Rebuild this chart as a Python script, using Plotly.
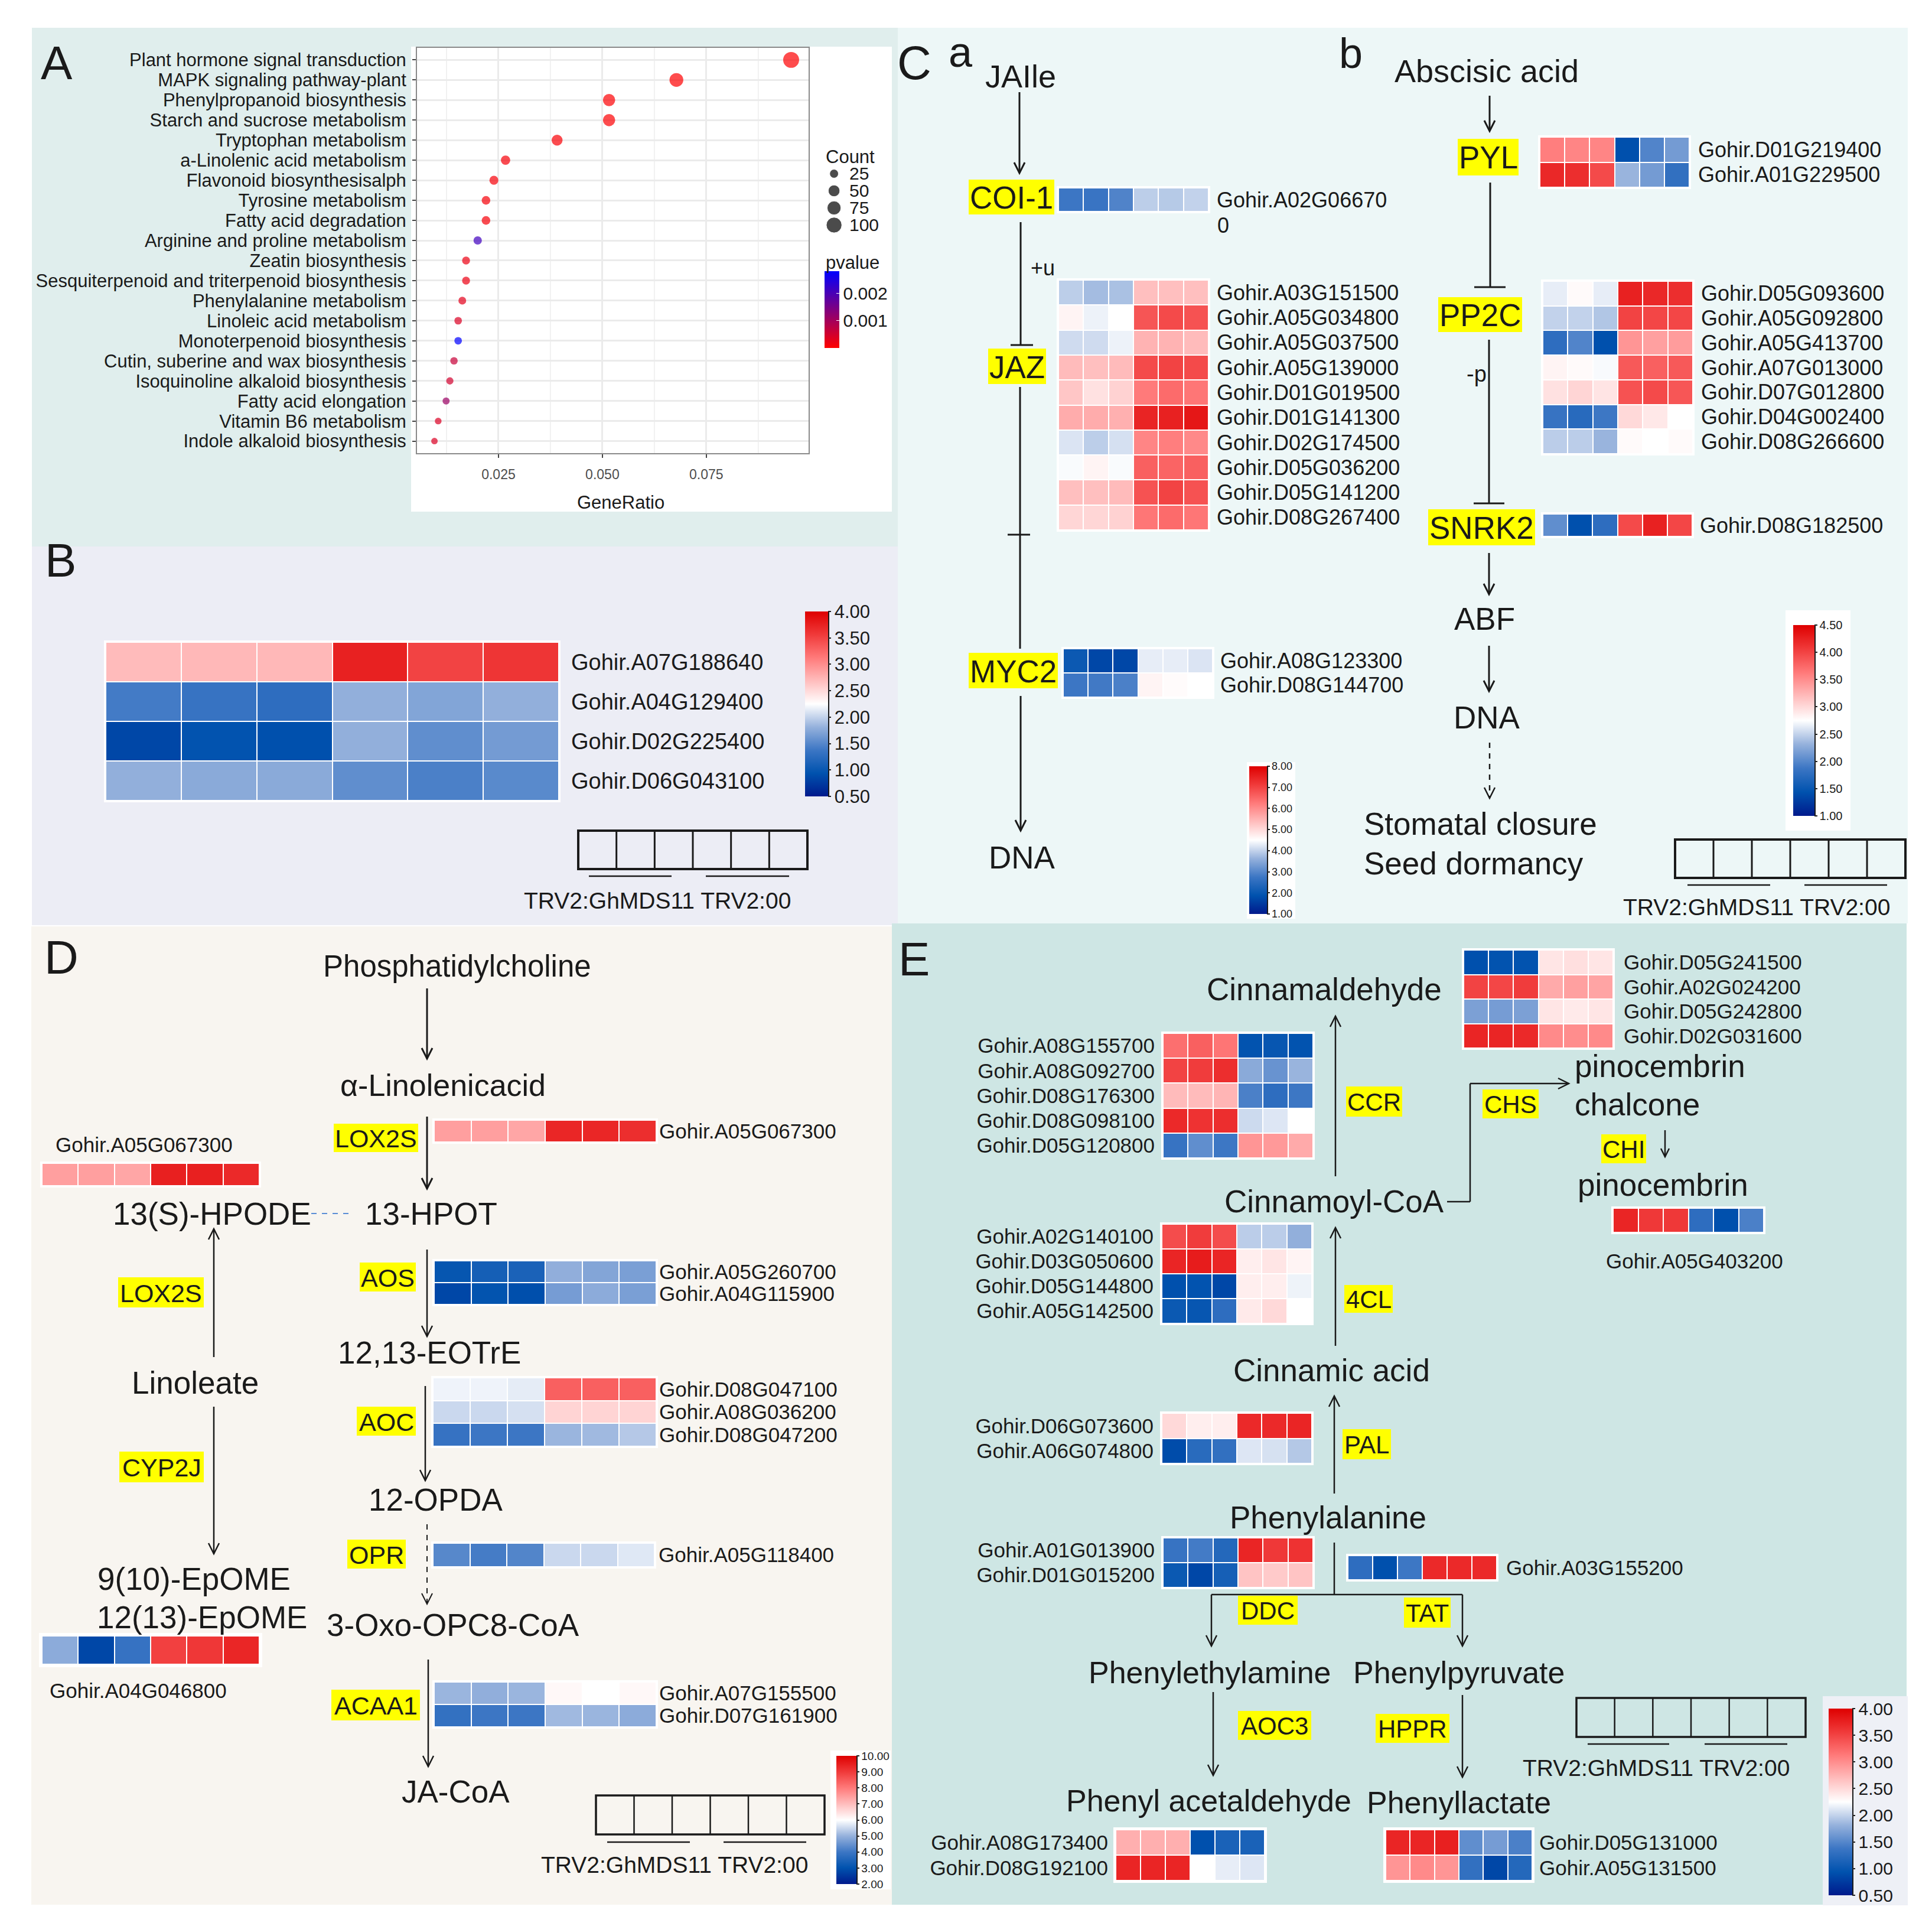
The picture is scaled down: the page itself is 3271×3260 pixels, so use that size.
import math
import plotly.graph_objects as go

W, H = 3271, 3260
FONT = "Liberation Sans, Arial, Helvetica, sans-serif"

# ------------------------------------------------------------------ data
SAMPLES = ["GhMDS11-1", "GhMDS11-2", "GhMDS11-3", "TRV2:00-1", "TRV2:00-2", "TRV2:00-3"]
GROUP_LABEL = "TRV2:GhMDS11 TRV2:00"

A_pathways = ["Plant hormone signal transduction", "MAPK signaling pathway-plant",
              "Phenylpropanoid biosynthesis", "Starch and sucrose metabolism",
              "Tryptophan metabolism", "a-Linolenic acid metabolism",
              "Flavonoid biosynthesisalph", "Tyrosine metabolism", "Fatty acid degradation",
              "Arginine and proline metabolism", "Zeatin biosynthesis",
              "Sesquiterpenoid and triterpenoid biosynthesis", "Phenylalanine metabolism",
              "Linoleic acid metabolism", "Monoterpenoid biosynthesis",
              "Cutin, suberine and wax biosynthesis", "Isoquinoline alkaloid biosynthesis",
              "Fatty acid elongation", "Vitamin B6 metabolism", "Indole alkaloid biosynthesis"]
A_gene_ratio = [0.0954, 0.0678, 0.0516, 0.0516, 0.0391, 0.0267, 0.0239, 0.0220, 0.0220, 0.0200,
                0.0172, 0.0172, 0.0163, 0.0153, 0.0153, 0.0143, 0.0133, 0.0124, 0.0105, 0.0096]
A_count = [105, 75, 57, 57, 43, 29, 26, 24, 24, 22, 19, 19, 18, 17, 17, 16, 15, 14, 12, 11]
A_pvalue = [0.00001, 0.00002, 0.00003, 0.00003, 0.00005, 0.0001, 0.0001, 0.0001, 0.0001, 0.0021,
            0.0002, 0.0002, 0.0003, 0.0004, 0.0028, 0.0006, 0.0005, 0.0011, 0.0004, 0.0004]
A_xticks = [0.025, 0.050, 0.075]
A_xticklabels = ["0.025", "0.050", "0.075"]
A_minor_grid = [0.0125, 0.0375, 0.0625, 0.0875]
A_count_legend = [25, 50, 75, 100]
A_p_ticks = [0.001, 0.002]

B_genes = ["Gohir.A07G188640", "Gohir.A04G129400", "Gohir.D02G225400", "Gohir.D06G043100"]
B_values = [[2.70, 2.72, 2.72, 3.75, 3.50, 3.60],
            [1.41, 1.34, 1.27, 1.80, 1.72, 1.80],
            [0.85, 0.95, 0.92, 1.80, 1.55, 1.65],
            [1.80, 1.76, 1.76, 1.55, 1.45, 1.52]]
B_ticks = [4.0, 3.5, 3.0, 2.5, 2.0, 1.5, 1.0, 0.5]

COI1_genes = ["Gohir.A02G06670"]
COI1_values = [[2.75, 2.70, 2.95, 3.95, 3.90, 4.00]]
JAZ_genes = ["Gohir.A03G151500", "Gohir.A05G034800", "Gohir.A05G037500", "Gohir.A05G139000",
             "Gohir.D01G019500", "Gohir.D01G141300", "Gohir.D02G174500", "Gohir.D05G036200",
             "Gohir.D05G141200", "Gohir.D08G267400"]
JAZ_values = [[3.95, 3.75, 3.80, 5.35, 5.35, 5.35],
              [4.65, 4.35, 4.50, 6.75, 6.90, 6.80],
              [4.10, 4.10, 4.35, 5.50, 5.50, 5.40],
              [5.40, 5.35, 5.40, 6.90, 7.00, 6.90],
              [5.25, 4.90, 5.10, 6.25, 6.45, 6.30],
              [5.60, 5.60, 5.55, 7.45, 7.50, 7.65],
              [4.20, 3.95, 4.15, 6.10, 6.20, 6.05],
              [4.45, 4.65, 4.45, 6.60, 6.55, 6.60],
              [5.35, 5.35, 5.40, 6.80, 7.00, 6.80],
              [5.05, 5.05, 5.10, 6.30, 6.45, 6.30]]
MYC2_genes = ["Gohir.A08G123300", "Gohir.D08G144700"]
MYC2_values = [[2.05, 1.70, 1.70, 4.30, 4.30, 4.20],
               [2.75, 2.80, 2.90, 4.65, 4.55, 4.50]]
Ca_ticks = [8.0, 7.0, 6.0, 5.0, 4.0, 3.0, 2.0, 1.0]

PYL_genes = ["Gohir.D01G219400", "Gohir.A01G229500"]
PYL_values = [[3.60, 3.55, 3.55, 1.42, 1.98, 2.15],
              [4.20, 4.15, 3.95, 2.33, 2.15, 1.80]]
PP2C_genes = ["Gohir.D05G093600", "Gohir.A05G092800", "Gohir.A05G413700", "Gohir.A07G013000",
              "Gohir.D07G012800", "Gohir.D04G002400", "Gohir.D08G266600"]
PP2C_values = [[2.65, 2.78, 2.65, 4.25, 4.20, 4.15],
               [2.50, 2.50, 2.43, 4.00, 3.98, 3.98],
               [1.77, 1.98, 1.42, 3.45, 3.38, 3.40],
               [2.82, 2.78, 2.72, 3.85, 3.80, 3.85],
               [2.95, 3.03, 2.93, 3.90, 3.95, 3.87],
               [1.84, 1.73, 1.88, 3.00, 2.90, 2.75],
               [2.47, 2.47, 2.33, 2.78, 2.75, 2.78]]
SNRK2_genes = ["Gohir.D08G182500"]
SNRK2_values = [[2.05, 1.42, 1.77, 3.95, 4.25, 3.98]]
Cb_ticks = [4.5, 4.0, 3.5, 3.0, 2.5, 2.0, 1.5, 1.0]

LOX2S_genes = ["Gohir.A05G067300"]
LOX2S_values = [[7.45, 7.45, 7.35, 9.35, 9.35, 9.20]]
LOX2S_left_values = [[7.45, 7.45, 7.35, 9.45, 9.45, 9.30]]
AOS_genes = ["Gohir.A05G260700", "Gohir.A04G115900"]
AOS_values = [[3.10, 3.35, 3.45, 4.95, 4.80, 4.70],
              [2.80, 3.05, 2.95, 4.65, 4.90, 4.70]]
AOC_genes = ["Gohir.D08G047100", "Gohir.A08G036200", "Gohir.D08G047200"]
AOC_values = [[5.85, 5.85, 5.75, 8.40, 8.40, 8.40],
              [5.50, 5.50, 5.60, 6.65, 6.65, 6.65],
              [3.90, 4.00, 4.00, 5.05, 5.10, 5.30]]
OPR_genes = ["Gohir.A05G118400"]
OPR_values = [[4.30, 4.10, 4.25, 5.50, 5.50, 5.70]]
ACAA1_genes = ["Gohir.A07G155500", "Gohir.D07G161900"]
ACAA1_values = [[5.05, 4.95, 5.05, 6.10, 6.00, 6.10],
                [3.85, 4.00, 4.00, 5.10, 5.05, 4.90]]
CYP2J_genes = ["Gohir.A04G046800"]
CYP2J_values = [[4.90, 2.80, 3.90, 8.90, 9.05, 9.35]]
D_ticks = [10.0, 9.0, 8.0, 7.0, 6.0, 5.0, 4.0, 3.0, 2.0]

E_top_genes = ["Gohir.D05G241500", "Gohir.A02G024200", "Gohir.D05G242800", "Gohir.D02G031600"]
E_top_values = [[0.92, 0.95, 0.95, 2.42, 2.46, 2.42],
                [3.50, 3.48, 3.55, 2.81, 2.88, 2.85],
                [1.69, 1.66, 1.69, 2.42, 2.39, 2.42],
                [3.72, 3.72, 3.69, 3.02, 3.00, 3.02]]
E_CCR_genes = ["Gohir.A08G155700", "Gohir.A08G092700", "Gohir.D08G176300", "Gohir.D08G098100",
               "Gohir.D05G120800"]
E_CCR_values = [[3.20, 3.30, 3.16, 0.95, 0.99, 0.95],
                [3.50, 3.55, 3.65, 1.76, 1.59, 1.83],
                [2.70, 2.70, 2.74, 1.45, 1.27, 1.38],
                [3.69, 3.62, 3.65, 2.04, 2.11, 2.25],
                [1.34, 1.55, 1.38, 2.95, 2.92, 2.81]]
E_4CL_genes = ["Gohir.A02G140100", "Gohir.D03G050600", "Gohir.D05G144800", "Gohir.A05G142500"]
E_4CL_values = [[3.44, 3.55, 3.44, 1.97, 1.97, 1.80],
                [3.72, 3.79, 3.72, 2.36, 2.42, 2.32],
                [0.92, 0.95, 0.85, 2.36, 2.36, 2.18],
                [1.02, 0.99, 1.27, 2.39, 2.50, 2.25]]
E_PAL_genes = ["Gohir.D06G073600", "Gohir.A06G074800"]
E_PAL_values = [[2.50, 2.36, 2.36, 3.69, 3.69, 3.72],
                [0.89, 1.24, 1.30, 2.11, 2.08, 1.94]]
E_DDC_genes = ["Gohir.A01G013900", "Gohir.D01G015200"]
E_DDC_values = [[1.34, 1.41, 1.20, 3.72, 3.58, 3.62],
                [1.02, 0.85, 1.10, 2.64, 2.60, 2.64]]
E_TAT_genes = ["Gohir.A03G155200"]
E_TAT_values = [[1.27, 0.92, 1.38, 3.69, 3.69, 3.69]]
E_CHI_genes = ["Gohir.A05G403200"]
E_CHI_values = [[3.72, 3.58, 3.58, 1.27, 0.92, 1.45]]
E_AOC3_genes = ["Gohir.A08G173400", "Gohir.D08G192100"]
E_AOC3_values = [[2.78, 2.78, 2.78, 0.92, 1.13, 1.13],
                 [3.72, 3.72, 3.72, 2.25, 2.15, 2.11]]
E_HPPR_genes = ["Gohir.D05G131000", "Gohir.A05G131500"]
E_HPPR_values = [[3.72, 3.72, 3.76, 1.55, 1.66, 1.45],
                 [2.95, 3.02, 2.95, 1.30, 0.85, 1.20]]
E_ticks = [4.0, 3.5, 3.0, 2.5, 2.0, 1.5, 1.0, 0.5]

# ------------------------------------------------------------------ helpers
CS = [[0.0, "#001A8C"], [0.125, "#0052AE"], [0.25, "#3C76C4"], [0.375, "#95B1DC"],
      [0.5, "#FFFFFF"], [0.625, "#FFBDBD"], [0.75, "#FF7A7A"], [0.875, "#F03A3A"],
      [1.0, "#DE0000"]]

fig = go.Figure()
shapes, annotations, axes = [], [], {}
counter = [0]
INK = "#1a1a1a"


def fx(x):
    return x / W


def fy(y):
    return 1 - y / H


def new_axes(x0, y0, x1, y1):
    counter[0] += 1
    n = counter[0]
    s = "" if n == 1 else str(n)
    axes["xaxis" + s] = dict(domain=[fx(x0), fx(x1)], anchor="y" + s, showgrid=False,
                             zeroline=False, fixedrange=True)
    axes["yaxis" + s] = dict(domain=[fy(y1), fy(y0)], anchor="x" + s, showgrid=False,
                             zeroline=False, fixedrange=True)
    return "x" + s, "y" + s, "xaxis" + s, "yaxis" + s


def txt(x, y, s, size, xanchor="center", yanchor="middle", color=INK):
    annotations.append(dict(x=fx(x), y=fy(y), xref="paper", yref="paper", text=s,
                            showarrow=False, xanchor=xanchor, yanchor=yanchor,
                            font=dict(size=size, color=color, family=FONT)))


def rect(x0, y0, x1, y1, fill, layer="below", lw=0, lc=INK):
    shapes.append(dict(type="rect", xref="paper", yref="paper", x0=fx(x0), x1=fx(x1),
                       y0=fy(y1), y1=fy(y0), fillcolor=fill, layer=layer,
                       line=dict(width=lw, color=lc)))


def line(x0, y0, x1, y1, w=3, color=INK, dash=None):
    ln = dict(color=color, width=w)
    if dash:
        ln["dash"] = dash
    shapes.append(dict(type="line", xref="paper", yref="paper", x0=fx(x0), y0=fy(y0),
                       x1=fx(x1), y1=fy(y1), line=ln))


def arrow(x0, y0, x1, y1, w=3, dash=None, L=18, hw=9):
    line(x0, y0, x1, y1, w, dash=dash)
    dx, dy = x1 - x0, y1 - y0
    n = math.hypot(dx, dy)
    dx, dy = dx / n, dy / n
    bx, by = x1 - dx * L, y1 - dy * L
    nx, ny = -dy, dx
    path = (f"M {fx(bx + nx * hw)},{fy(by + ny * hw)} L {fx(x1)},{fy(y1)} "
            f"L {fx(bx - nx * hw)},{fy(by - ny * hw)}")
    shapes.append(dict(type="path", xref="paper", yref="paper", path=path,
                       line=dict(color=INK, width=w)))


def hl(x0, y0, x1, y1, s, size):
    rect(x0, y0, x1, y1, "#FFFF00")
    txt((x0 + x1) / 2, (y0 + y1) / 2 + 1, s, size)


def cbar(x0, y0, x1, y1, ticks, size):
    return dict(x=fx(x0), xanchor="left", y=fy((y0 + y1) / 2), yanchor="middle",
                len=y1 - y0, lenmode="pixels", thickness=x1 - x0, thicknessmode="pixels",
                xpad=0, ypad=0, outlinewidth=0, tickmode="array", tickvals=ticks,
                ticktext=[f"{v:.2f}" for v in ticks], ticks="outside", ticklen=5,
                tickwidth=2, tickcolor="#222",
                tickfont=dict(size=size, family=FONT, color=INK))


def heat(box, z, genes, zmin, zmax, side="right", standoff=12, size=35, cb=None, pad=3,
         show_labels=True):
    x0, y0, x1, y1 = box
    xr, yr, xn, yn = new_axes(x0, y0, x1, y1)
    nr, nc = len(z), len(z[0])
    axes[xn].update(type="category", range=[-0.5, nc - 0.5], visible=False)
    ya = dict(type="category", range=[nr - 0.5, -0.5], showline=False)
    if show_labels:
        ya.update(side=side, ticks="", ticklabelstandoff=standoff, tickmode="array",
                  tickvals=genes, ticktext=genes,
                  tickfont=dict(size=size, family=FONT, color=INK))
    else:
        ya["visible"] = False
    axes[yn].update(ya)
    kw = {}
    if cb is not None:
        kw["colorbar"] = cb
    fig.add_trace(go.Heatmap(z=z, x=SAMPLES, y=genes, xaxis=xr, yaxis=yr, zmin=zmin,
                             zmax=zmax, colorscale=CS, xgap=2, ygap=2,
                             showscale=cb is not None, hoverinfo="skip", **kw))
    w, h = x1 - x0, y1 - y0
    shapes.append(dict(type="rect", xref=xr + " domain", yref=yr + " domain",
                       x0=-pad / w, x1=1 + pad / w, y0=-pad / h, y1=1 + pad / h,
                       fillcolor="white", line=dict(width=0), layer="below"))


def groupbox(x0, y0, x1, y1, uly, u1, u2, tx, ty, size=39, w=4):
    shapes.append(dict(type="rect", xref="paper", yref="paper", x0=fx(x0), x1=fx(x1),
                       y0=fy(y1), y1=fy(y0), line=dict(width=w, color=INK)))
    for i in range(1, 6):
        xx = x0 + i * (x1 - x0) / 6
        line(xx, y0, xx, y1, w - 1)
    line(u1[0], uly, u1[1], uly, 2.5)
    line(u2[0], uly, u2[1], uly, 2.5)
    txt(tx, ty, GROUP_LABEL, size)


def size_of(c):
    return 11 + (math.sqrt(c) - math.sqrt(11)) * 2.3


# ------------------------------------------------------------------ panel backgrounds
rect(46, 39, 1512, 917, "#E0EEED")
rect(46, 917, 1512, 1558, "#ECEDF5")
rect(1512, 39, 3222, 1555, "#EDF7F7")
rect(45, 1560, 1502, 3216, "#F8F5F0")
rect(1502, 1555, 3220, 3216, "#CEE6E4")
rect(688, 71, 1502, 858, "#FFFFFF")

txt(88, 98, "A", 80)
txt(94, 940, "B", 80)
txt(1540, 98, "C", 80)
txt(1618, 80, "a", 72)
txt(2279, 82, "b", 72)
txt(96, 1612, "D", 80)
txt(1539, 1615, "E", 80)

# ------------------------------------------------------------------ panel A
xr, yr, xn, yn = new_axes(698, 73, 1361, 759)
axes[xn].update(range=[0.0054, 0.0996], tickmode="array", tickvals=A_xticks,
                ticktext=A_xticklabels, ticks="outside", ticklen=6, tickwidth=2,
                tickcolor="#444", tickfont=dict(size=23, color="#4D4D4D", family=FONT),
                showgrid=True, gridcolor="#EBEBEB", gridwidth=3,
                showline=True, mirror=True, linecolor="#8A8A8A", linewidth=2,
                ticklabelstandoff=8)
axes[yn].update(type="category", categoryorder="array", categoryarray=A_pathways,
                tickmode="array", tickvals=A_pathways, ticktext=A_pathways,
                range=[19.6, -0.6], ticks="outside", ticklen=6, tickwidth=2, tickcolor="#444",
                tickfont=dict(size=31, color=INK, family=FONT), showgrid=True,
                gridcolor="#EBEBEB", gridwidth=3, showline=True, mirror=True,
                linecolor="#8A8A8A", linewidth=2, ticklabelstandoff=4)
for g in A_minor_grid:
    shapes.append(dict(type="line", xref=xr, yref=yr + " domain", x0=g, x1=g, y0=0, y1=1,
                       line=dict(color="#F1F1F1", width=2), layer="below"))
fig.add_trace(go.Scatter(
    x=A_gene_ratio, y=A_pathways, xaxis=xr, yaxis=yr, mode="markers", hoverinfo="skip",
    marker=dict(size=[size_of(c) for c in A_count], color=A_pvalue, cmin=0, cmax=0.0028,
                colorscale=[[0, "#FF0000"], [1, "#0000FF"]], line=dict(width=0),
                showscale=True,
                colorbar=dict(x=fx(1388), xanchor="left", y=fy(516), yanchor="middle",
                              len=130, lenmode="pixels", thickness=25, thicknessmode="pixels",
                              xpad=0, ypad=0, outlinewidth=0, tickmode="array",
                              tickvals=A_p_ticks, ticktext=[f"{v:.3f}" for v in A_p_ticks],
                              ticks="inside", ticklen=5, tickcolor="white",
                              tickfont=dict(size=30, family=FONT, color=INK)))))
txt(1043, 842, "GeneRatio", 31)
txt(1388, 258, "Count", 31, xanchor="left")
txt(1388, 436, "pvalue", 31, xanchor="left")

lx, ly, lxn, lyn = new_axes(1390, 270, 1420, 390)
axes[lxn].update(range=[0, 1], visible=False)
axes[lyn].update(range=[114.7, 11.2], visible=False)
fig.add_trace(go.Scatter(x=[0.47] * len(A_count_legend), y=A_count_legend, xaxis=lx, yaxis=ly,
                         mode="markers", hoverinfo="skip",
                         marker=dict(color="black", size=[size_of(c) for c in A_count_legend])))
for c in A_count_legend:
    annotations.append(dict(x=1, y=c, xref=lx + " domain", yref=ly, text=str(c),
                            showarrow=False, xanchor="left", yanchor="middle", xshift=8,
                            font=dict(size=30, family=FONT, color=INK)))

# ------------------------------------------------------------------ panel B
heat((171, 1079, 938, 1347), B_values, B_genes, 0.5, 4.0, standoff=20, size=38,
     cb=cbar(1355, 1027, 1394, 1340, B_ticks, 31))
line(1395, 1027, 1395, 1340, 2)
groupbox(971, 1398, 1359, 1463, 1475, (989, 1129), (1187, 1328), 1105, 1516, size=39)

# ------------------------------------------------------------------ panel C (a)
txt(1720, 121, "JAIle", 54)
arrow(1718, 148, 1718, 285)
hl(1632, 296, 1777, 355, "COI-1", 53)
heat((1784, 310, 2038, 350), COI1_values, COI1_genes, 1, 8, standoff=13, size=36)
txt(2051, 373, "0", 36, xanchor="left")
line(1720, 368, 1720, 576)
line(1703, 576, 1741, 576)
txt(1757, 446, "+u", 36)
hl(1665, 582, 1763, 642, "JAZ", 53)
rect(2103, 1282, 2185, 1547, "#FFFFFF")
heat((1784, 466, 2038, 889), JAZ_values, JAZ_genes, 1, 8, standoff=13, size=36,
     cb=cbar(2107, 1289, 2137, 1539, Ca_ticks, 18))
line(2138, 1289, 2138, 1539, 2)
line(1719, 647, 1719, 1090)
line(1698, 897, 1736, 897)
hl(1632, 1097, 1783, 1157, "MYC2", 53)
heat((1792, 1090, 2045, 1172), MYC2_values, MYC2_genes, 1, 8, standoff=12, size=36)
arrow(1720, 1170, 1720, 1398)
txt(1722, 1443, "DNA", 53)

# ------------------------------------------------------------------ panel C (b)
txt(2509, 112, "Abscisic acid", 54)
arrow(2514, 154, 2514, 214)
hl(2460, 227, 2563, 289, "PYL", 53)
heat((2599, 224, 2852, 309), PYL_values, PYL_genes, 1, 4.5, standoff=14, size=36)
line(2515, 301, 2515, 478)
line(2488, 478, 2541, 478)
hl(2427, 495, 2569, 554, "PP2C", 53)
rect(3015, 1025, 3125, 1398, "#FFFFFF")
heat((2604, 468, 2858, 760), PP2C_values, PP2C_genes, 1, 4.5, standoff=13, size=36,
     cb=cbar(3028, 1050, 3064, 1373, Cb_ticks, 20))
line(3065, 1050, 3065, 1373, 2)
txt(2492, 625, "-p", 38)
line(2513, 567, 2513, 844)
line(2487, 844, 2539, 844)
hl(2410, 854, 2591, 915, "SNRK2", 53)
heat((2604, 862, 2857, 900), SNRK2_values, SNRK2_genes, 1, 4.5, standoff=12, size=36)
arrow(2513, 928, 2513, 998)
txt(2505, 1040, "ABF", 53)
arrow(2513, 1085, 2513, 1162)
txt(2509, 1206, "DNA", 53)
arrow(2514, 1249, 2514, 1343, w=2.5, dash="dash")
txt(2299, 1386, "Stomatal closure", 53, xanchor="left")
txt(2299, 1453, "Seed dormancy", 53, xanchor="left")
groupbox(2828, 1413, 3218, 1478, 1490, (2849, 2989), (3047, 3187), 2966, 1527, size=39)

# ------------------------------------------------------------------ panel D
txt(766, 1627, "Phosphatidylcholine", 51)
arrow(715, 1665, 715, 1784)
txt(742, 1829, "α-Linolenicacid", 52)
hl(557, 1894, 700, 1942, "LOX2S", 43)
arrow(715, 1882, 715, 2004)
heat((727, 1888, 1103, 1925), LOX2S_values, LOX2S_genes, 2, 10, standoff=4, size=35)
heat((63, 1961, 431, 1999), LOX2S_left_values, LOX2S_genes, 2, 10, show_labels=False)
txt(236, 1929, LOX2S_genes[0], 35)
txt(351, 2046, "13(S)-HPODE", 53)
line(519, 2046, 589, 2046, 2, color="#5B8ED6", dash="dash")
txt(722, 2046, "13-HPOT", 53)
arrow(354, 2289, 354, 2072, w=2.5)
hl(192, 2154, 337, 2205, "LOX2S", 43)
hl(601, 2129, 696, 2178, "AOS", 43)
arrow(715, 2107, 715, 2254, w=2.5)
heat((727, 2126, 1103, 2200), AOS_values, AOS_genes, 2, 10, standoff=4, size=35)
txt(719, 2281, "12,13-EOTrE", 53)
txt(322, 2332, "Linoleate", 53)
hl(596, 2373, 696, 2422, "AOC", 43)
arrow(712, 2338, 712, 2498, w=2.5)
rect(1398, 2955, 1500, 3190, "#FFFFFF")
heat((725, 2324, 1103, 2440), AOC_values, AOC_genes, 2, 10, standoff=4, size=35,
     cb=cbar(1408, 2964, 1442, 3181, D_ticks, 19))
line(1443, 2964, 1443, 3181, 2)
hl(194, 2449, 337, 2501, "CYP2J", 43)
arrow(354, 2373, 354, 2622, w=2.5)
txt(729, 2530, "12-OPDA", 53)
hl(580, 2598, 679, 2647, "OPR", 43)
arrow(715, 2572, 715, 2707, w=2, dash="dash")
heat((725, 2604, 1100, 2644), OPR_values, OPR_genes, 2, 10, standoff=6, size=35)
txt(320, 2664, "9(10)-EpOME", 53)
txt(334, 2729, "12(13)-EpOME", 53)
heat((63, 2761, 431, 2809), CYP2J_values, CYP2J_genes, 2, 10, show_labels=False, pad=5)
txt(226, 2853, CYP2J_genes[0], 35)
txt(759, 2742, "3-Oxo-OPC8-CoA", 53)
hl(553, 2852, 703, 2904, "ACAA1", 43)
arrow(717, 2801, 717, 2982, w=2.5)
heat((727, 2839, 1103, 2915), ACAA1_values, ACAA1_genes, 2, 10, standoff=4, size=35)
txt(763, 3024, "JA-CoA", 53)
groupbox(1001, 3031, 1388, 3097, 3110, (1020, 1160), (1217, 1357), 1134, 3148, size=39, w=3.5)

# ------------------------------------------------------------------ panel E
rect(3078, 2863, 3222, 3217, "#EEF0F6")
heat((2470, 1600, 2723, 1766), E_top_values, E_top_genes, 0.5, 4, standoff=17, size=35,
     cb=cbar(3088, 2884, 3128, 3200, E_ticks, 30))
line(3129, 2884, 3129, 3200, 2)
txt(2234, 1666, "Cinnamaldehyde", 53)
heat((1961, 1741, 2215, 1952), E_CCR_values, E_CCR_genes, 0.5, 4, side="left", standoff=13,
     size=35)
arrow(2253, 1983, 2253, 1712, w=2.5)
hl(2271, 1831, 2366, 1882, "CCR", 42)
line(2442, 2026, 2481, 2026, 2.5)
line(2481, 2026, 2481, 1826, 2.5)
arrow(2481, 1826, 2648, 1826, w=2.5)
hl(2502, 1836, 2597, 1885, "CHS", 42)
txt(2656, 1796, "pinocembrin", 53, xanchor="left")
txt(2656, 1861, "chalcone", 53, xanchor="left")
hl(2703, 1912, 2779, 1961, "CHI", 42)
arrow(2811, 1905, 2811, 1950, w=2.5, L=14, hw=7)
txt(2661, 1997, "pinocembrin", 53, xanchor="left")
heat((2723, 2037, 2978, 2078), E_CHI_values, E_CHI_genes, 0.5, 4, show_labels=False)
txt(2861, 2126, E_CHI_genes[0], 35)
txt(2251, 2026, "Cinnamoyl-CoA", 53)
heat((1959, 2064, 2213, 2232), E_4CL_values, E_4CL_genes, 0.5, 4, side="left", standoff=13,
     size=35)
arrow(2253, 2270, 2253, 2070, w=2.5)
hl(2268, 2167, 2350, 2214, "4CL", 42)
txt(2246, 2311, "Cinnamic acid", 53)
heat((1959, 2384, 2213, 2469), E_PAL_values, E_PAL_genes, 0.5, 4, side="left", standoff=13,
     size=35)
hl(2265, 2411, 2347, 2462, "PAL", 42)
arrow(2251, 2520, 2251, 2355, w=2.5)
txt(2240, 2560, "Phenylalanine", 53)
heat((1961, 2595, 2215, 2679), E_DDC_values, E_DDC_genes, 0.5, 4, side="left", standoff=13,
     size=35)
heat((2274, 2625, 2526, 2666), E_TAT_values, E_TAT_genes, 0.5, 4, standoff=15, size=35)
line(2251, 2603, 2251, 2691, 2.5)
line(2043, 2691, 2468, 2691, 2.5)
arrow(2043, 2691, 2043, 2778, w=2.5)
arrow(2468, 2691, 2468, 2778, w=2.5)
hl(2088, 2693, 2189, 2742, "DDC", 42)
hl(2369, 2696, 2448, 2747, "TAT", 42)
txt(2040, 2823, "Phenylethylamine", 52)
txt(2462, 2823, "Phenylpyruvate", 52)
arrow(2046, 2856, 2046, 2997, w=2.5)
arrow(2468, 2861, 2468, 3000, w=2.5)
hl(2088, 2888, 2212, 2937, "AOC3", 42)
hl(2321, 2893, 2446, 2942, "HPPR", 42)
txt(2038, 3040, "Phenyl acetaldehyde", 52)
txt(2462, 3043, "Phenyllactate", 52)
heat((1881, 3089, 2133, 3175), E_AOC3_values, E_AOC3_genes, 0.5, 4, side="left", standoff=12,
     size=35, pad=4)
heat((2338, 3089, 2586, 3175), E_HPPR_values, E_HPPR_genes, 0.5, 4, standoff=11, size=35,
     pad=4)
groupbox(2661, 2866, 3049, 2932, 2944, (2680, 2818), (2878, 3018), 2796, 2984, size=39, w=3.5)

fig.update_layout(width=W, height=H, margin=dict(l=0, r=0, t=0, b=0), template="none",
                  paper_bgcolor="white", plot_bgcolor="rgba(0,0,0,0)", showlegend=False,
                  shapes=shapes, annotations=annotations, **axes)
fig.write_html("out.html")
